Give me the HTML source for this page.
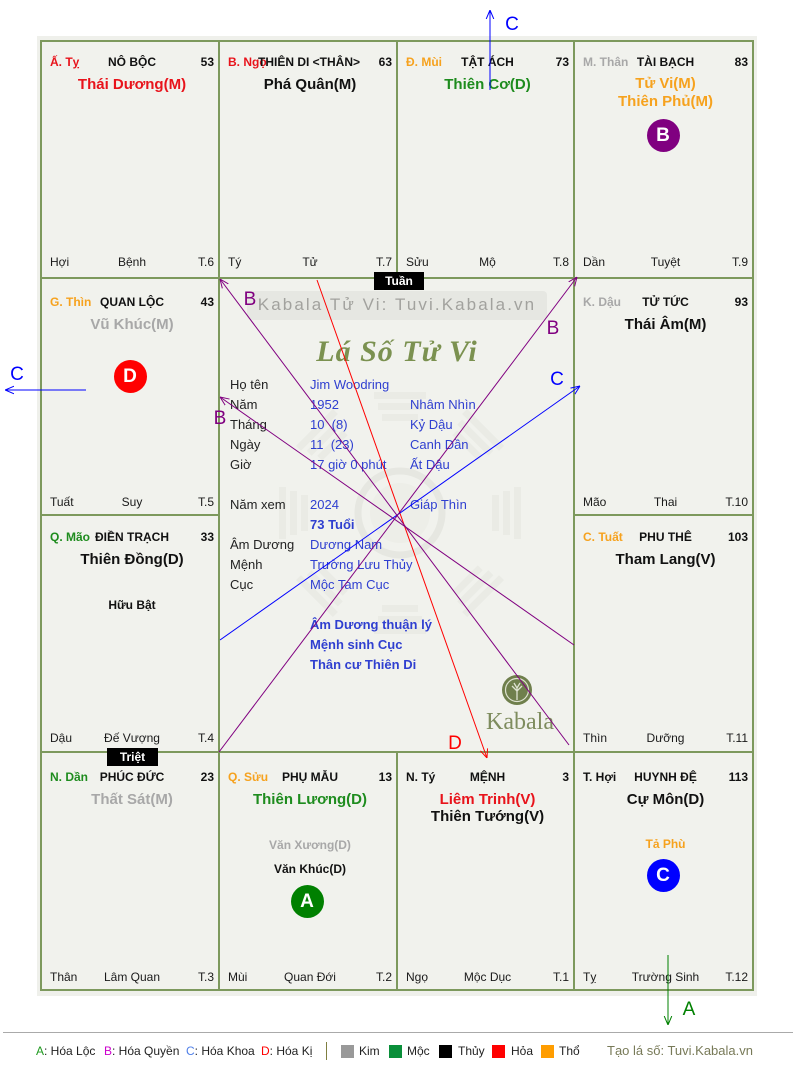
<!DOCTYPE html>
<html><head><meta charset="utf-8"><style>
*{margin:0;padding:0;box-sizing:border-box}
html,body{width:796px;height:1070px;background:#fff;overflow:hidden}
body{position:relative;font-family:"Liberation Sans","DejaVu Sans",sans-serif;color:#111}
.a{position:absolute;white-space:nowrap}
.t{font-size:12px;font-weight:bold;line-height:16px;height:16px}
.n{font-size:12px;line-height:16px;height:16px;color:#1a1a1a}
.s{font-size:15px;font-weight:bold;line-height:18px;height:18px;text-align:center}
.c{text-align:center}
.r{text-align:right}
.vl{position:absolute;width:2px;background:#7d995d}
.hl{position:absolute;height:2px;background:#7d995d}
.circ{position:absolute;width:33px;height:33px;border-radius:50%;color:#fff;font-weight:bold;font-size:19px;line-height:33px;text-align:center}
.i{font-size:13px;line-height:16px;height:16px;color:#222}
.v{color:#2f3fd0}
.box{position:absolute;background:#000;color:#fff;font-size:12px;font-weight:bold;line-height:18px;height:18px;text-align:center}
.lg{font-size:12px;line-height:16px;color:#222}
.sq{position:absolute;width:13px;height:13px;top:1045px}
</style></head><body>

<!-- chart background -->
<div class="a" style="left:37px;top:36px;width:720px;height:960px;background:#eff0eb"></div>
<div class="a" style="left:41px;top:41px;width:712px;height:949px;background:#f1f2ed"></div>

<!-- faint center watermark -->
<svg class="a" style="left:0;top:0" width="796" height="1070">
  <g fill="#eaebe5">
    <g id="tri">
      <rect x="382" y="414" width="36" height="7"/>
      <rect x="378" y="403" width="44" height="7"/>
      <rect x="374" y="392" width="52" height="7"/>
    </g>
    <use href="#tri" transform="rotate(45 400 513)"/>
    <use href="#tri" transform="rotate(90 400 513)"/>
    <use href="#tri" transform="rotate(135 400 513)"/>
    <use href="#tri" transform="rotate(180 400 513)"/>
    <use href="#tri" transform="rotate(225 400 513)"/>
    <use href="#tri" transform="rotate(270 400 513)"/>
    <use href="#tri" transform="rotate(315 400 513)"/>
  </g>
  <circle cx="400" cy="513" r="42" fill="none" stroke="#e6e7e1" stroke-width="7"/>
  <circle cx="400" cy="513" r="30" fill="#edeee8"/>
</svg>

<!-- grid lines -->
<div class="vl" style="left:40px;top:40px;height:951px"></div>
<div class="vl" style="left:218px;top:40px;height:951px"></div>
<div class="vl" style="left:396px;top:40px;height:239px"></div>
<div class="vl" style="left:396px;top:751px;height:240px"></div>
<div class="vl" style="left:573px;top:40px;height:951px"></div>
<div class="vl" style="left:752px;top:40px;height:951px"></div>
<div class="hl" style="left:40px;top:40px;width:714px"></div>
<div class="hl" style="left:40px;top:277px;width:714px"></div>
<div class="hl" style="left:40px;top:514px;width:179px"></div>
<div class="hl" style="left:573px;top:514px;width:181px"></div>
<div class="hl" style="left:40px;top:751px;width:714px"></div>
<div class="hl" style="left:40px;top:989px;width:714px"></div>

<!-- ROW 1 -->
<div class="a t" style="left:50px;top:54px;color:#e8131b">Ấ. Tỵ</div>
<div class="a t c" style="left:43px;width:178px;top:54px">NÔ BỘC</div>
<div class="a t r" style="left:41px;width:173px;top:54px">53</div>
<div class="a s" style="left:43px;width:178px;top:76px;color:#e8131b">Thái Dương(M)</div>
<div class="a n" style="left:50px;top:254px">Hợi</div>
<div class="a n c" style="left:43px;width:178px;top:254px">Bệnh</div>
<div class="a n r" style="left:41px;width:173px;top:254px">T.6</div>

<div class="a t" style="left:228px;top:54px;color:#e8131b">B. Ngọ</div>
<div class="a t c" style="left:220px;width:178px;top:54px">THIÊN DI &lt;THÂN&gt;</div>
<div class="a t r" style="left:219px;width:173px;top:54px">63</div>
<div class="a s" style="left:221px;width:178px;top:76px">Phá Quân(M)</div>
<div class="a n" style="left:228px;top:254px">Tý</div>
<div class="a n c" style="left:221px;width:178px;top:254px">Tử</div>
<div class="a n r" style="left:219px;width:173px;top:254px">T.7</div>

<div class="a t" style="left:406px;top:54px;color:#f6a21e">Đ. Mùi</div>
<div class="a t c" style="left:399px;width:177px;top:54px">TẬT ÁCH</div>
<div class="a t r" style="left:397px;width:172px;top:54px">73</div>
<div class="a s" style="left:399px;width:177px;top:76px;color:#1e8c1e">Thiên Cơ(D)</div>
<div class="a n" style="left:406px;top:254px">Sửu</div>
<div class="a n c" style="left:399px;width:177px;top:254px">Mộ</div>
<div class="a n r" style="left:397px;width:172px;top:254px">T.8</div>

<div class="a t" style="left:583px;top:54px;color:#a8a8a8">M. Thân</div>
<div class="a t c" style="left:576px;width:179px;top:54px">TÀI BẠCH</div>
<div class="a t r" style="left:574px;width:174px;top:54px">83</div>
<div class="a s" style="left:576px;width:179px;top:75px;color:#f6a21e">Tử Vi(M)</div>
<div class="a s" style="left:576px;width:179px;top:93px;color:#f6a21e">Thiên Phủ(M)</div>
<div class="circ" style="left:646.5px;top:118.5px;background:#800080">B</div>
<div class="a n" style="left:583px;top:254px">Dần</div>
<div class="a n c" style="left:576px;width:179px;top:254px">Tuyệt</div>
<div class="a n r" style="left:574px;width:174px;top:254px">T.9</div>

<!-- ROW 2 -->
<div class="a t" style="left:50px;top:294px;color:#f6a21e">G. Thìn</div>
<div class="a t c" style="left:43px;width:178px;top:294px">QUAN LỘC</div>
<div class="a t r" style="left:41px;width:173px;top:294px">43</div>
<div class="a s" style="left:43px;width:178px;top:316px;color:#a8a8a8">Vũ Khúc(M)</div>
<div class="circ" style="left:113.5px;top:359.5px;background:#ff0000">D</div>
<div class="a n" style="left:50px;top:494px">Tuất</div>
<div class="a n c" style="left:43px;width:178px;top:494px">Suy</div>
<div class="a n r" style="left:41px;width:173px;top:494px">T.5</div>

<div class="a t" style="left:583px;top:294px;color:#a8a8a8">K. Dậu</div>
<div class="a t c" style="left:576px;width:179px;top:294px">TỬ TỨC</div>
<div class="a t r" style="left:574px;width:174px;top:294px">93</div>
<div class="a s" style="left:576px;width:179px;top:316px">Thái Âm(M)</div>
<div class="a n" style="left:583px;top:494px">Mão</div>
<div class="a n c" style="left:576px;width:179px;top:494px">Thai</div>
<div class="a n r" style="left:574px;width:174px;top:494px">T.10</div>

<!-- ROW 3 -->
<div class="a t" style="left:50px;top:529px;color:#1e8c1e">Q. Mão</div>
<div class="a t c" style="left:43px;width:178px;top:529px">ĐIỀN TRẠCH</div>
<div class="a t r" style="left:41px;width:173px;top:529px">33</div>
<div class="a s" style="left:43px;width:178px;top:551px">Thiên Đồng(D)</div>
<div class="a t c" style="left:43px;width:178px;top:597px">Hữu Bật</div>
<div class="a n" style="left:50px;top:730px">Dậu</div>
<div class="a n c" style="left:43px;width:178px;top:730px">Đế Vượng</div>
<div class="a n r" style="left:41px;width:173px;top:730px">T.4</div>

<div class="a t" style="left:583px;top:529px;color:#f6a21e">C. Tuất</div>
<div class="a t c" style="left:576px;width:179px;top:529px">PHU THÊ</div>
<div class="a t r" style="left:574px;width:174px;top:529px">103</div>
<div class="a s" style="left:576px;width:179px;top:551px">Tham Lang(V)</div>
<div class="a n" style="left:583px;top:730px">Thìn</div>
<div class="a n c" style="left:576px;width:179px;top:730px">Dưỡng</div>
<div class="a n r" style="left:574px;width:174px;top:730px">T.11</div>

<!-- ROW 4 -->
<div class="a t" style="left:50px;top:769px;color:#1e8c1e">N. Dần</div>
<div class="a t c" style="left:43px;width:178px;top:769px">PHÚC ĐỨC</div>
<div class="a t r" style="left:41px;width:173px;top:769px">23</div>
<div class="a s" style="left:43px;width:178px;top:791px;color:#a8a8a8">Thất Sát(M)</div>
<div class="a n" style="left:50px;top:969px">Thân</div>
<div class="a n c" style="left:43px;width:178px;top:969px">Lâm Quan</div>
<div class="a n r" style="left:41px;width:173px;top:969px">T.3</div>

<div class="a t" style="left:228px;top:769px;color:#f6a21e">Q. Sửu</div>
<div class="a t c" style="left:221px;width:178px;top:769px">PHỤ MẪU</div>
<div class="a t r" style="left:219px;width:173px;top:769px">13</div>
<div class="a s" style="left:221px;width:178px;top:791px;color:#1e8c1e">Thiên Lương(D)</div>
<div class="a t c" style="left:221px;width:178px;top:837px;color:#a8a8a8">Văn Xương(D)</div>
<div class="a t c" style="left:221px;width:178px;top:861px">Văn Khúc(D)</div>
<div class="circ" style="left:290.5px;top:884.5px;background:#008000">A</div>
<div class="a n" style="left:228px;top:969px">Mùi</div>
<div class="a n c" style="left:221px;width:178px;top:969px">Quan Đới</div>
<div class="a n r" style="left:219px;width:173px;top:969px">T.2</div>

<div class="a t" style="left:406px;top:769px">N. Tý</div>
<div class="a t c" style="left:399px;width:177px;top:769px">MỆNH</div>
<div class="a t r" style="left:397px;width:172px;top:769px">3</div>
<div class="a s" style="left:399px;width:177px;top:791px;color:#e8131b">Liêm Trinh(V)</div>
<div class="a s" style="left:399px;width:177px;top:808px">Thiên Tướng(V)</div>
<div class="a n" style="left:406px;top:969px">Ngọ</div>
<div class="a n c" style="left:399px;width:177px;top:969px">Mộc Dục</div>
<div class="a n r" style="left:397px;width:172px;top:969px">T.1</div>

<div class="a t" style="left:583px;top:769px">T. Hợi</div>
<div class="a t c" style="left:576px;width:179px;top:769px">HUYNH ĐỆ</div>
<div class="a t r" style="left:574px;width:174px;top:769px">113</div>
<div class="a s" style="left:576px;width:179px;top:791px">Cự Môn(D)</div>
<div class="a t c" style="left:576px;width:179px;top:836px;color:#f6a21e">Tả Phù</div>
<div class="circ" style="left:646.5px;top:858.5px;background:#0000ff">C</div>
<div class="a n" style="left:583px;top:969px">Tỵ</div>
<div class="a n c" style="left:576px;width:179px;top:969px">Trường Sinh</div>
<div class="a n r" style="left:574px;width:174px;top:969px">T.12</div>

<!-- CENTER -->
<div class="a" style="left:247px;top:291px;width:300px;height:29px;background:#e6e7e2;border-radius:4px"></div>
<div class="a c" style="left:247px;top:294px;width:300px;font-size:17px;line-height:22px;letter-spacing:2.1px;color:#a2a29e">Kabala Tử Vi: Tuvi.Kabala.vn</div>
<div class="a c" style="left:297px;top:333px;width:200px;font-family:'Liberation Serif',serif;font-style:italic;font-weight:bold;font-size:30px;line-height:38px;letter-spacing:1px;color:#7b9150">Lá Số Tử Vi</div>

<div class="a i" style="left:230px;top:377px">Họ tên</div><div class="a i v" style="left:310px;top:377px">Jim Woodring</div>
<div class="a i" style="left:230px;top:397px">Năm</div><div class="a i v" style="left:310px;top:397px">1952</div><div class="a i v" style="left:410px;top:397px">Nhâm Nhìn</div>
<div class="a i" style="left:230px;top:417px">Tháng</div><div class="a i v" style="left:310px;top:417px">10&nbsp; (8)</div><div class="a i v" style="left:410px;top:417px">Kỷ Dậu</div>
<div class="a i" style="left:230px;top:437px">Ngày</div><div class="a i v" style="left:310px;top:437px">11&nbsp; (23)</div><div class="a i v" style="left:410px;top:437px">Canh Dần</div>
<div class="a i" style="left:230px;top:457px">Giờ</div><div class="a i v" style="left:310px;top:457px">17 giờ 0 phút</div><div class="a i v" style="left:410px;top:457px">Ất Dậu</div>
<div class="a i" style="left:230px;top:497px">Năm xem</div><div class="a i v" style="left:310px;top:497px">2024</div><div class="a i v" style="left:410px;top:497px">Giáp Thìn</div>
<div class="a i v" style="left:310px;top:517px;font-weight:bold">73 Tuổi</div>
<div class="a i" style="left:230px;top:537px">Âm Dương</div><div class="a i v" style="left:310px;top:537px">Dương Nam</div>
<div class="a i" style="left:230px;top:557px">Mệnh</div><div class="a i v" style="left:310px;top:557px">Trường Lưu Thủy</div>
<div class="a i" style="left:230px;top:577px">Cục</div><div class="a i v" style="left:310px;top:577px">Mộc Tam Cục</div>
<div class="a i v" style="left:310px;top:617px;font-weight:bold">Âm Dương thuận lý</div>
<div class="a i v" style="left:310px;top:637px;font-weight:bold">Mệnh sinh Cục</div>
<div class="a i v" style="left:310px;top:657px;font-weight:bold">Thân cư Thiên Di</div>

<!-- Kabala logo -->
<svg class="a" style="left:500px;top:673px" width="36" height="36">
  <circle cx="17" cy="17" r="15" fill="#6f7f4c"/>
  <circle cx="17" cy="17" r="11.5" fill="none" stroke="#dfe3d2" stroke-width="1.2"/>
  <path d="M17 27 V14 M17 18 L12 13 M17 18 L22 13 M17 15 L14 10 M17 15 L20 10" stroke="#dfe3d2" stroke-width="1.3" fill="none"/>
</svg>
<div class="a c" style="left:470px;top:707px;width:100px;font-family:'Liberation Serif',serif;font-size:24px;line-height:30px;color:#7e8c5e">Kabala</div>

<!-- lines overlay -->
<svg class="a" style="left:0;top:0" width="796" height="1070">
  <defs>
    <marker id="mR" viewBox="0 0 10 10" refX="10" refY="5" markerWidth="9" markerHeight="9" markerUnits="userSpaceOnUse" orient="auto"><path d="M0,0.8 L10,5 L0,9.2" fill="none" stroke="#ff0000" stroke-width="1.1"/></marker>
    <marker id="mB" viewBox="0 0 10 10" refX="10" refY="5" markerWidth="9" markerHeight="9" markerUnits="userSpaceOnUse" orient="auto"><path d="M0,0.8 L10,5 L0,9.2" fill="none" stroke="#0000ff" stroke-width="1.1"/></marker>
    <marker id="mP" viewBox="0 0 10 10" refX="10" refY="5" markerWidth="9" markerHeight="9" markerUnits="userSpaceOnUse" orient="auto"><path d="M0,0.8 L10,5 L0,9.2" fill="none" stroke="#800080" stroke-width="1.1"/></marker>
    <marker id="mG" viewBox="0 0 10 10" refX="10" refY="5" markerWidth="9" markerHeight="9" markerUnits="userSpaceOnUse" orient="auto"><path d="M0,0.8 L10,5 L0,9.2" fill="none" stroke="#008000" stroke-width="1.1"/></marker>
  </defs>
  <g fill="none" stroke-width="1">
    <line x1="317" y1="280" x2="487" y2="758" stroke="#ff0000" marker-end="url(#mR)"/>
    <line x1="220" y1="640" x2="580" y2="386" stroke="#0000ff" marker-end="url(#mB)"/>
    <line x1="219" y1="752" x2="577" y2="277" stroke="#800080" marker-end="url(#mP)"/>
    <line x1="569" y1="745" x2="220" y2="279" stroke="#800080" marker-end="url(#mP)"/>
    <line x1="574" y1="645" x2="220" y2="397" stroke="#800080" marker-end="url(#mP)"/>
    <line x1="490" y1="90" x2="490" y2="10" stroke="#0000ff" marker-end="url(#mB)"/>
    <line x1="86" y1="390" x2="5" y2="390" stroke="#0000ff" marker-end="url(#mB)"/>
    <line x1="668" y1="955" x2="668" y2="1025" stroke="#008000" marker-end="url(#mG)"/>
  </g>
  <g font-family="Liberation Sans, sans-serif" font-size="19" text-anchor="middle">
    <text x="250" y="305" fill="#800080">B</text>
    <text x="553" y="334" fill="#800080">B</text>
    <text x="220" y="424" fill="#800080">B</text>
    <text x="557" y="385" fill="#0000ff">C</text>
    <text x="17" y="380" fill="#0000ff">C</text>
    <text x="512" y="30" fill="#0000ff">C</text>
    <text x="455" y="749" fill="#ff0000">D</text>
    <text x="689" y="1015" fill="#008000">A</text>
  </g>
</svg>

<!-- Tuần / Triệt -->
<div class="box" style="left:374px;top:272px;width:50px">Tuần</div>
<div class="box" style="left:107px;top:748px;width:51px">Triệt</div>

<!-- footer -->
<div class="a" style="left:3px;top:1032px;width:790px;height:1px;background:#aaaaaa"></div>
<div class="a lg" style="left:36px;top:1043px"><span style="color:#1f9a1f">A</span>: Hóa Lộc</div>
<div class="a lg" style="left:104px;top:1043px"><span style="color:#cc00cc">B</span>: Hóa Quyền</div>
<div class="a lg" style="left:186px;top:1043px"><span style="color:#4f7fe8">C</span>: Hóa Khoa</div>
<div class="a lg" style="left:261px;top:1043px"><span style="color:#ff0000">D</span>: Hóa Kị</div>
<div class="a" style="left:326px;top:1042px;width:1px;height:18px;background:#7f7f40"></div>
<div class="sq" style="left:341px;background:#999999"></div>
<div class="a lg" style="left:359px;top:1043px">Kim</div>
<div class="sq" style="left:389px;background:#0a8f3a"></div>
<div class="a lg" style="left:407px;top:1043px">Mộc</div>
<div class="sq" style="left:439px;background:#000000"></div>
<div class="a lg" style="left:458px;top:1043px">Thủy</div>
<div class="sq" style="left:492px;background:#ff0000"></div>
<div class="a lg" style="left:511px;top:1043px">Hỏa</div>
<div class="sq" style="left:541px;background:#ff9d00"></div>
<div class="a lg" style="left:559px;top:1043px">Thổ</div>
<div class="a" style="left:607px;top:1043px;font-size:13px;line-height:16px;color:#787a58">Tạo lá số: Tuvi.Kabala.vn</div>

</body></html>
